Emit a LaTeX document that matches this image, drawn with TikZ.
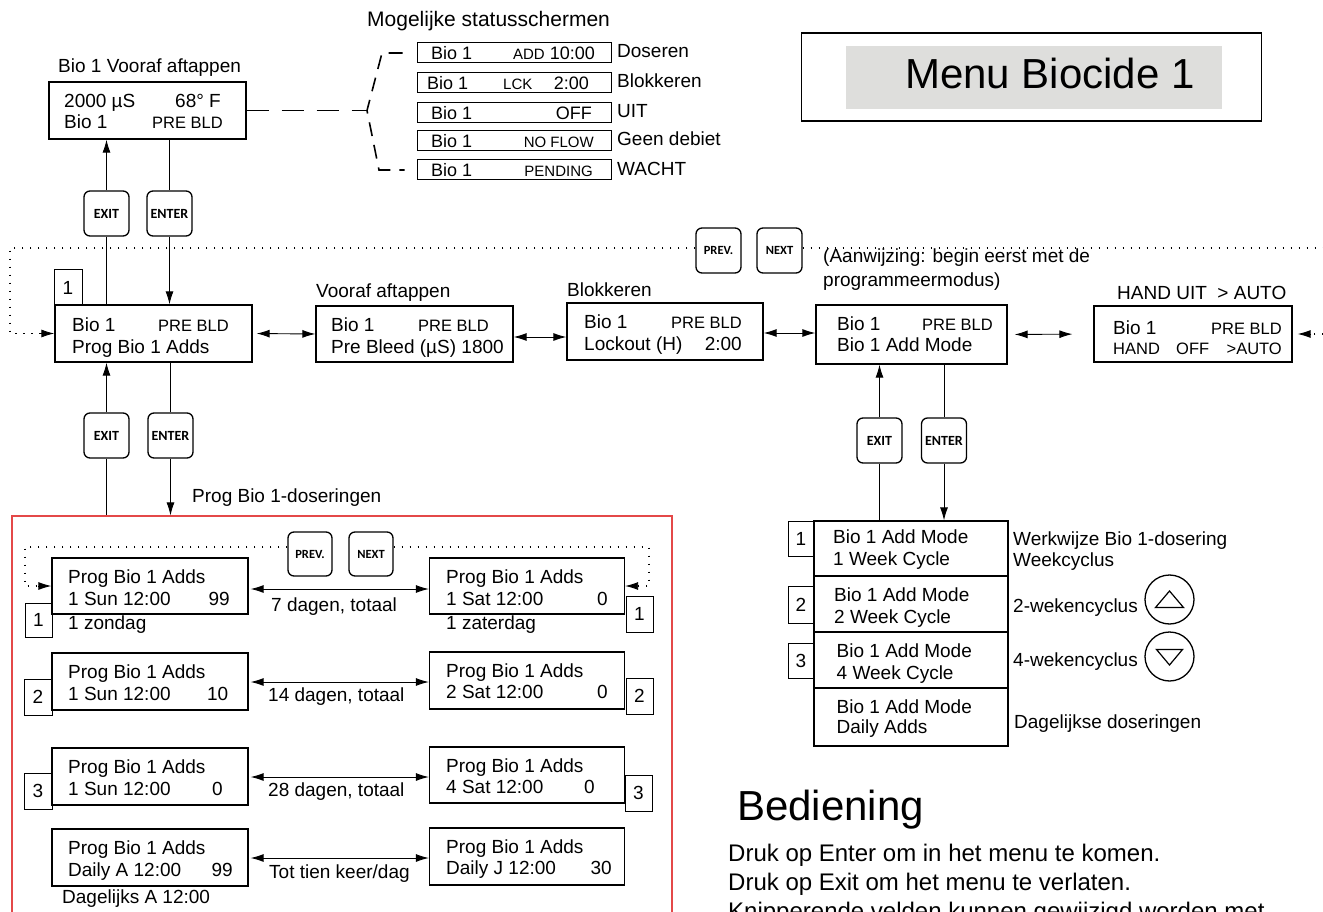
\documentclass[tikz,border=0pt]{standalone}
\usepackage{fontspec}
\setmainfont{Liberation Sans}
\newfontfamily\btnfont{Carlito}
\usetikzlibrary{arrows.meta}
\definecolor{redline}{RGB}{228,72,72}
\definecolor{menugray}{RGB}{222,222,220}
\newcommand{\fN}{\fontsize{19}{22}\selectfont}
\newcommand{\fP}{\fontsize{16.5}{19}\selectfont}
\newcommand{\fS}{\fontsize{18}{21}\selectfont}
\newcommand{\fSm}{\fontsize{15}{18}\selectfont}
\newcommand{\fT}{\fontsize{42}{47}\selectfont}
\newcommand{\fD}{\fontsize{24}{28}\selectfont}
\newcommand{\fBtn}{\btnfont\bfseries\fontsize{14}{16}\selectfont}
\newcommand{\fBtnS}{\btnfont\bfseries\fontsize{12.5}{15}\selectfont}
\begin{document}
\begin{tikzpicture}[x=1pt,y=-1pt,
 lcd/.style={draw, line width=1.3pt, inner sep=0pt},
 tabbox/.style={draw, line width=1pt, inner sep=0pt, font=\fN},
 sbox/.style={draw, line width=1pt, inner sep=0pt, minimum width=194, minimum height=20},
 btn/.style={draw, line width=1.3pt, rounded corners=6pt, minimum width=45, minimum height=45, inner sep=0pt},
 tl/.style={inner sep=0pt, anchor=base west, font=\fN},
 tr/.style={inner sep=0pt, anchor=base east, font=\fN},
 conn/.style={line width=0.9pt},
 arr/.style={conn, -{Latex[length=13pt,width=8pt]}},
 dbl/.style={conn, {Latex[length=13pt,width=8pt]}-{Latex[length=13pt,width=8pt]}},
 dotl/.style={line width=1.5pt, dash pattern=on 1.5pt off 6.5pt},
 dashl/.style={line width=1.6pt, dash pattern=on 22pt off 13pt},
 brk/.style={line width=1.6pt, dash pattern=on 14pt off 9pt},
]
\useasboundingbox (0,0) rectangle (1323,912);
\clip (0,0) rectangle (1323,912);

% ---------- top ----------
\node[tl, font=\fontsize{21}{24}\selectfont] (ttl) at (367,27) {Mogelijke statusschermen};
\node[tl] (tbT) at (58,73) {Bio 1 Vooraf aftappen};
\node[lcd, minimum width=197, minimum height=57] (TB) at (147.5,110.5) {};
\node[tl] (tb1) at (64,108) {2000 µS};
\node[tl] (tb2) at (175,108) {68° F};
\node[tl] (tb3) at (64,129) {Bio 1};
\node[tr, font=\fP] (tb4) at (223,129) {PRE BLD};

\foreach \n/\y in {1/53,2/83,3/113,4/141,5/170}
  \node[sbox] (s\n) at (514,\y) {};
\node[tl, font=\fS] (s1a) at (431,60) {Bio 1};
\node[tr, font=\fS] (s1b) at (595,60) {{\fSm ADD} 10:00};
\node[tl, font=\fS] (s2a) at (427,90) {Bio 1};
\node[tl, font=\fSm] (s2b) at (503,90) {LCK};
\node[tr, font=\fS] (s2c) at (589,90) {2:00};
\node[tl, font=\fS] (s3a) at (431,120) {Bio 1};
\node[tr, font=\fS] (s3b) at (592,120) {OFF};
\node[tl, font=\fS] (s4a) at (431,148) {Bio 1};
\node[tr, font=\fSm] (s4b) at (594,148) {NO FLOW};
\node[tl, font=\fS] (s5a) at (431,177) {Bio 1};
\node[tr, font=\fSm] (s5b) at (593,177) {PENDING};
\node[tl] (s1l) at (617,58) {Doseren};
\node[tl] (s2l) at (617,88) {Blokkeren};
\node[tl] (s3l) at (617,118) {UIT};
\node[tl] (s4l) at (617,146) {Geen debiet};
\node[tl] (s5l) at (617,176) {WACHT};

\coordinate (bk) at (367,110.5);
\draw[dashl] (TB.east) -- (bk);
\draw[brk] ([xshift=-14pt]s1.west) -- (382,53) -- (bk) -- (379,170) -- ([xshift=-12pt]s5.west);

\node[draw, line width=1.3pt, minimum width=460, minimum height=88, inner sep=0pt] (MB) at (1031.5,77) {};
\node[fill=menugray, minimum width=376, minimum height=63, inner sep=0pt] (MG) at (1034,77.5) {};
\node[tl, font=\fT] (MT) at (905,89) {Menu Biocide 1};

% ---------- middle row ----------
\node[btn, font=\fBtn] (EX1) at (106.5,213.5) {EXIT};
\node[btn, font=\fBtn] (EN1) at (169.5,213.5) {ENTER};
\node[btn, font=\fBtnS] (PV1) at (718.5,250.5) {PREV.};
\node[btn, font=\fBtnS] (NX1) at (779.5,250.5) {NEXT};

\node[tabbox, minimum width=28, minimum height=35] (tab0) at (68,287.5) {1};
\node[lcd, minimum width=197, minimum height=57] (M1) at (153.5,333.5) {};
\node[tl] (m1a) at (72,331) {Bio 1};
\node[tr, font=\fP] (m1b) at (229,331) {PRE BLD};
\node[tl] (m1c) at (72,353) {Prog Bio 1 Adds};

\node[lcd, minimum width=197, minimum height=56] (M2) at (414.5,334) {};
\node[tl] (m2t) at (316,298) {Vooraf aftappen};
\node[tl] (m2a) at (331,331) {Bio 1};
\node[tr, font=\fP] (m2b) at (489,331) {PRE BLD};
\node[tl] (m2c) at (331,353) {Pre Bleed (µS) 1800};

\node[lcd, minimum width=196, minimum height=57] (M3) at (665,331.5) {};
\node[tl] (m3t) at (567,296) {Blokkeren};
\node[tl] (m3a) at (584,328) {Bio 1};
\node[tr, font=\fP] (m3b) at (742,328) {PRE BLD};
\node[tl] (m3c) at (584,350) {Lockout (H)};
\node[tr] (m3d) at (742,350) {2:00};

\node[lcd, minimum width=191, minimum height=59] (M4) at (911.5,334.5) {};
\node[tl] (m4t) at (823,262) {(Aanwijzing: begin eerst met de};
\node[tl] (m4u) at (823,287) {programmeermodus)};
\node[tl] (m4a) at (837,330) {Bio 1};
\node[tr, font=\fP] (m4b) at (993,330) {PRE BLD};
\node[tl] (m4c) at (837,351) {Bio 1 Add Mode};

\node[lcd, minimum width=198, minimum height=56] (M5) at (1193,334) {};
\node[tl] (m5t) at (1117,299) {HAND UIT\ \ > AUTO};
\node[tl] (m5a) at (1113,334) {Bio 1};
\node[tr, font=\fP] (m5b) at (1282,334) {PRE BLD};
\node[tl, font=\fP] (m5c) at (1113,354) {HAND};
\node[tl, font=\fP] (m5d) at (1176,354) {OFF};
\node[tr, font=\fP] (m5e) at (1282,354) {>AUTO};

\draw[dbl, shorten <=4pt] (M1.east) -- (M2.west);
\draw[dbl] (M2.east |- 0,337) -- (M3.west |- 0,337);
\draw[dbl] (M3.east |- 0,333) -- (M4.west |- 0,333);
\draw[dbl, shorten <=7pt, shorten >=21pt] (M4.east) -- (M5.west);

\draw[dotl] (PV1.west |- 0,248) -- (10,248) -- (10,333.5) -- ([xshift=-13pt]M1.west);
\draw[arr] ([xshift=-13.5pt]M1.west) -- (M1.west);
\draw[dotl] (NX1.east |- 0,248) -- (1340,248) -- (1340,334) -- ([xshift=18pt]M5.east);
\draw[arr] ([xshift=18.5pt]M5.east) -- ([xshift=5pt]M5.east);

\draw[arr] (EX1.north) -- (EX1.north |- TB.south);
\draw[conn] (EX1.south) -- (EX1.south |- M1.north);
\draw[conn] (EN1.north |- TB.south) -- (EN1.north);
\draw[arr] (EN1.south) -- (EN1.south |- M1.north);

% ---------- lower left ----------
\node[btn, font=\fBtn] (EX2) at (106.5,435.5) {EXIT};
\node[btn, font=\fBtn] (EN2) at (170.5,435.5) {ENTER};
\node[draw=redline, line width=1.1pt, minimum width=660, minimum height=414, inner sep=0pt] (RB) at (342,723) {};
\node[tl] (pbt) at (192,502) {Prog Bio 1-doseringen};
\draw[arr] (EX2.north) -- (EX2.north |- M1.south);
\draw[conn] (EX2.south) -- (EX2.south |- RB.north);
\draw[conn] (EN2.north |- M1.south) -- (EN2.north);
\draw[arr] (EN2.south) -- (EN2.south |- RB.north);

\node[btn, font=\fBtnS, minimum width=44, minimum height=44] (PV2) at (310,554) {PREV.};
\node[btn, font=\fBtnS, minimum width=44, minimum height=44] (NX2) at (371,554) {NEXT};

\node[lcd, minimum width=196, minimum height=56] (L1) at (150,586) {};
\node[lcd, minimum width=195, minimum height=56] (R1) at (527,586) {};
\node[lcd, minimum width=196, minimum height=57] (L2) at (150,681.5) {};
\node[lcd, minimum width=195, minimum height=57] (R2) at (527,680.5) {};
\node[lcd, minimum width=196, minimum height=57] (L3) at (150,776.5) {};
\node[lcd, minimum width=195, minimum height=56] (R3) at (527,775) {};
\node[lcd, minimum width=196, minimum height=57] (L4) at (150,857.5) {};
\node[lcd, minimum width=195, minimum height=57] (R4) at (527,856.5) {};

\node[tabbox, minimum width=27, minimum height=34] (tL1) at (38.5,620) {1};
\node[tabbox, minimum width=27, minimum height=36] (tR1) at (639.5,614) {1};
\node[tabbox, minimum width=28, minimum height=36] (tL2) at (38,697) {2};
\node[tabbox, minimum width=27, minimum height=36] (tR2) at (639.5,696) {2};
\node[tabbox, minimum width=28, minimum height=36] (tL3) at (38,791) {3};
\node[tabbox, minimum width=27, minimum height=36] (tR3) at (638.5,793) {3};

\draw[dotl] (PV2.west |- 0,547) -- (25,547) -- (25,586) -- ([xshift=-13pt]L1.west);
\draw[arr] ([xshift=-13.5pt]L1.west) -- (L1.west);
\draw[dotl] (NX2.east |- 0,547) -- (649,547) -- (649,586) -- ([xshift=13pt]R1.east);
\draw[arr] ([xshift=13.5pt]R1.east) -- (R1.east);

\node[tl] (l1a) at (68,583) {Prog Bio 1 Adds};
\node[tl] (l1b) at (68,605) {1 Sun 12:00};
\node[tr] (l1c) at (230,605) {99};
\node[tl] (l1d) at (68,629) {1 zondag};
\node[tl] (r1a) at (446,583) {Prog Bio 1 Adds};
\node[tl] (r1b) at (446,605) {1 Sat 12:00};
\node[tr] (r1c) at (608,605) {0};
\node[tl] (r1d) at (446,629) {1 zaterdag};
\draw[dbl, shorten <=2pt] (L1.east |- 0,589) -- (R1.west |- 0,589);
\node[tl] (d1) at (271,611) {7 dagen, totaal};

\node[tl] (l2a) at (68,678) {Prog Bio 1 Adds};
\node[tl] (l2b) at (68,700) {1 Sun 12:00};
\node[tr] (l2c) at (228.5,700) {10};
\node[tl] (r2a) at (446,677) {Prog Bio 1 Adds};
\node[tl] (r2b) at (446,698) {2 Sat 12:00};
\node[tr] (r2c) at (608,698) {0};
\draw[dbl, shorten <=2pt] (L2.east |- 0,682) -- (R2.west |- 0,682);
\node[tl] (d2) at (268,701.5) {14 dagen, totaal};

\node[tl] (l3a) at (68,773) {Prog Bio 1 Adds};
\node[tl] (l3b) at (68,795) {1 Sun 12:00};
\node[tr] (l3c) at (223,795) {0};
\node[tl] (r3a) at (446,772) {Prog Bio 1 Adds};
\node[tl] (r3b) at (446,793) {4 Sat 12:00};
\node[tr] (r3c) at (595,793) {0};
\draw[dbl, shorten <=2pt] (L3.east |- 0,777) -- (R3.west |- 0,777);
\node[tl] (d3) at (268,796.5) {28 dagen, totaal};

\node[tl] (l4a) at (68,854) {Prog Bio 1 Adds};
\node[tl] (l4b) at (68,876) {Daily A 12:00};
\node[tr] (l4c) at (233,876) {99};
\node[tl] (l4d) at (62,903) {Dagelijks A 12:00};
\node[tl] (r4a) at (446,853) {Prog Bio 1 Adds};
\node[tl] (r4b) at (446,874) {Daily J 12:00};
\node[tr] (r4c) at (612,874) {30};
\draw[dbl, shorten <=2pt] (L4.east |- 0,858) -- (R4.west |- 0,858);
\node[tl] (d4) at (269,878) {Tot tien keer/dag};

% ---------- right list ----------
\node[btn, font=\fBtn] (EX3) at (879.5,440.5) {EXIT};
\node[btn, font=\fBtn] (EN3) at (944,440.5) {ENTER};
\node[lcd, minimum width=194, minimum height=55] (A1) at (911,548.5) {};
\node[lcd, minimum width=194, minimum height=56] (A2) at (911,604) {};
\node[lcd, minimum width=194, minimum height=56] (A3) at (911,660) {};
\node[lcd, minimum width=194, minimum height=58] (A4) at (911,717) {};
\node[tabbox, minimum width=26, minimum height=35] (tA1) at (801,538.5) {1};
\node[tabbox, minimum width=26, minimum height=37] (tA2) at (801,604.5) {2};
\node[tabbox, minimum width=26, minimum height=35] (tA3) at (801,660.5) {3};

\draw[arr] (EX3.north) -- (EX3.north |- M4.south);
\draw[conn] (EX3.south) -- (EX3.south |- A1.north);
\draw[conn] (EN3.north |- M4.south) -- (EN3.north);
\draw[arr] (EN3.south) -- (EN3.south |- A1.north);

\node[tl] (a1a) at (833,543) {Bio 1 Add Mode};
\node[tl] (a1b) at (833,565) {1 Week Cycle};
\node[tl] (a2a) at (834,601) {Bio 1 Add Mode};
\node[tl] (a2b) at (834,623) {2 Week Cycle};
\node[tl] (a3a) at (836.5,657) {Bio 1 Add Mode};
\node[tl] (a3b) at (836.5,679) {4 Week Cycle};
\node[tl] (a4a) at (836.5,713) {Bio 1 Add Mode};
\node[tl] (a4b) at (836.5,733) {Daily Adds};
\node[tl] (al1) at (1013,545) {Werkwijze Bio 1-dosering};
\node[tl] (al2) at (1013,566) {Weekcyclus};
\node[tl] (al3) at (1013,612) {2-wekencyclus};
\node[tl] (al4) at (1013,666) {4-wekencyclus};
\node[tl] (al5) at (1014,728) {Dagelijkse doseringen};

\node[draw, circle, line width=1.3pt, minimum size=49, inner sep=0pt] (CU) at (1169.5,599.5) {};
\node[draw, circle, line width=1.3pt, minimum size=49, inner sep=0pt] (CD) at (1169.5,656.5) {};
\draw[line width=1.2pt, line join=miter] (1155.5,607.5) -- (1169.5,591) -- (1183.5,607.5) -- cycle;
\draw[line width=1.2pt, line join=miter] (1156.5,649.5) -- (1169.5,665) -- (1182.5,649.5) -- cycle;

% ---------- bottom right ----------
\node[tl, font=\fT] (bed) at (737,820) {Bediening};
\node[tl, font=\fD] (b1) at (728,861) {Druk op Enter om in het menu te komen.};
\node[tl, font=\fD] (b2) at (728,890) {Druk op Exit om het menu te verlaten.};
\node[tl, font=\fD] (b3) at (728,919) {Knipperende velden kunnen gewijzigd worden met};
\end{tikzpicture}
\end{document}
